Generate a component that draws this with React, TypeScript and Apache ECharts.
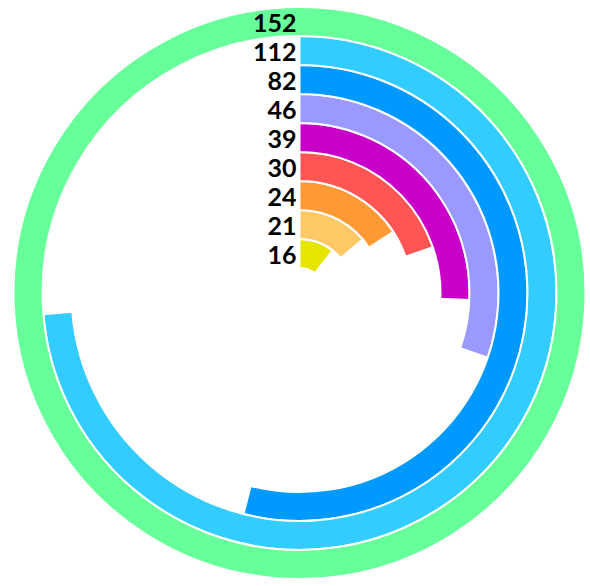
import React, { useEffect, useRef } from "react";
import * as echarts from "echarts";

// inner -> outer
const values = [16, 21, 24, 30, 39, 46, 82, 112, 152];
const categories = values.map((v) => String(v));
const colors = [
  "#e5e500",
  "#ffc966",
  "#ff9933",
  "#ff5555",
  "#c800c8",
  "#9999ff",
  "#0099ff",
  "#33ccff",
  "#66ff99",
];
const maxValue = 152;

export default function App() {
  const ref = useRef<HTMLDivElement>(null);
  useEffect(() => {
    document.body.style.margin = "0";
    const chart = echarts.init(ref.current!, null, { renderer: "svg" });
    chart.setOption({
      animation: false,
      backgroundColor: "#ffffff",
      polar: { center: [299.5, 293], radius: [25, 286] },
      angleAxis: {
        type: "value",
        min: 0,
        max: maxValue,
        startAngle: 90,
        clockwise: true,
        show: false,
      },
      radiusAxis: {
        type: "category",
        data: categories,
        axisLine: { show: false },
        axisTick: { show: false },
        splitLine: { show: false },
        axisLabel: {
          show: true,
          interval: 0,
          hideOverlap: false,
          margin: 3,
          color: "#000000",
          fontFamily: "Lato",
          fontWeight: "bold",
          fontSize: 25,
        },
        z: 10,
      },
      series: [
        {
          type: "bar",
          coordinateSystem: "polar",
          barCategoryGap: "0%",
          data: values.map((v, i) => ({
            value: v,
            itemStyle: { color: colors[i] },
          })),
          itemStyle: { borderColor: "#ffffff", borderWidth: 2 },
        },
      ],
    });
    return () => chart.dispose();
  }, []);
  return <div ref={ref} style={{ width: 590, height: 586 }} />;
}
